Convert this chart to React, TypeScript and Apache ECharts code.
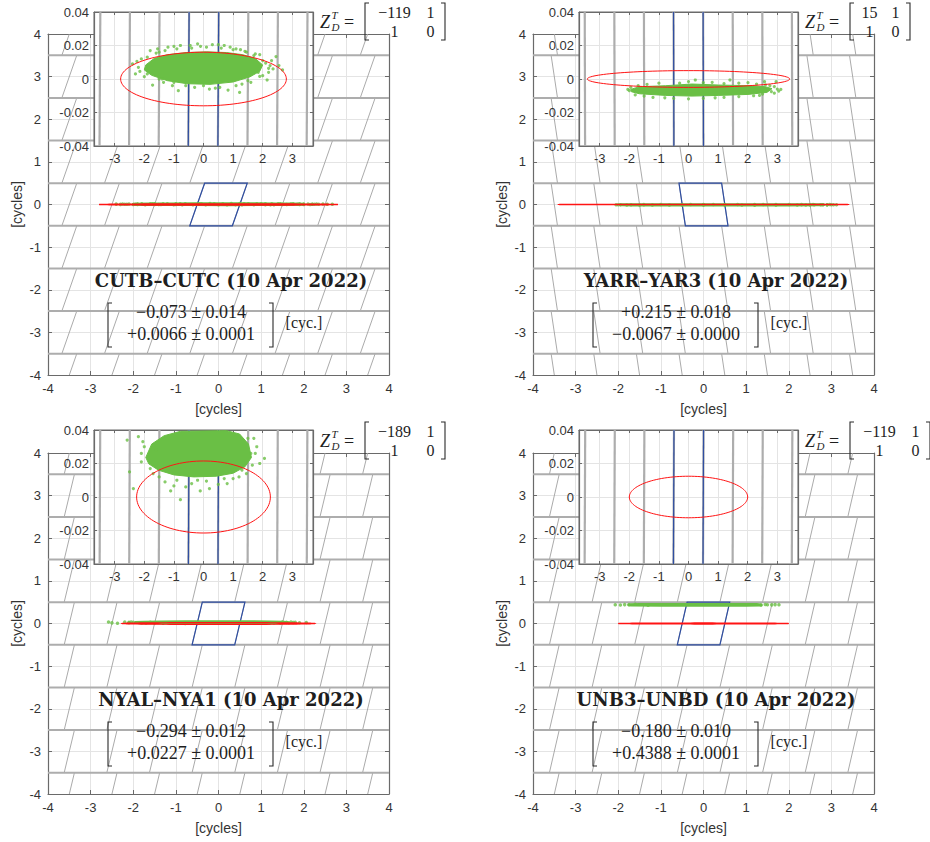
import React, { useEffect, useRef } from 'react';
import * as echarts from 'echarts';

// ---------------- data ----------------
const panelTitles = [
  'CUTB–CUTC (10 Apr 2022)',
  'YARR–YAR3 (10 Apr 2022)',
  'NYAL–NYA1 (10 Apr 2022)',
  'UNB3–UNBD (10 Apr 2022)',
];
const estimateRows = [
  ['−0.073 ± 0.014', '+0.0066 ± 0.0001'],
  ['+0.215 ± 0.018', '−0.0067 ± 0.0000'],
  ['−0.294 ± 0.012', '+0.0227 ± 0.0001'],
  ['−0.180 ± 0.010', '+0.4388 ± 0.0001'],
];
const zMatrixRows = [
  [['−119', '1'], ['1', '0']],
  [['15', '1'], ['1', '0']],
  [['−189', '1'], ['1', '0']],
  [['−119', '1'], ['1', '0']],
];
// shear of the pull-in region edges (dx per unit dy)
const latticeShear = [0.35, -0.15, 0.24, 0.23];
const ellipseCenters = [[0, 0], [0, 0], [0, 0], [0, 0]];
const ellipseSemiAxes = [[2.8, 0.016], [3.42, 0.005], [2.26, 0.0215], [2.0, 0.0124]];

const mainRange = [-4, 4];
const insetXRange = [-3.7, 3.7];
const insetYRange = [-0.04, 0.04];

// dense core outline of each float-solution cloud [cycles]
const coreCUTB = [[-1.95, 0.0084], [-1.67, 0.0122], [-1.22, 0.0145], [-0.56, 0.0158], [0.11, 0.0162], [0.78, 0.0158], [1.33, 0.0145], [1.75, 0.0122], [2.0, 0.0084], [1.9, 0.0046], [1.56, 0.0012], [1.0, -0.0018], [0.22, -0.0032], [-0.56, -0.0028], [-1.22, -0.001], [-1.75, 0.0022], [-2.0, 0.0054]];
const dotsCUTB = [[-2.4, 0.009], [-2.3, 0.003], [-2.1, 0.012], [-1.95, 0.006], [-1.8, 0.017], [-1.72, -0.0036], [-1.55, 0.018], [-1.4, 0.0], [-1.2, 0.019], [-1.0, 0.0195], [-0.85, -0.007], [-0.78, 0.02], [-0.6, -0.004], [-0.45, 0.02], [-0.2, 0.021], [0.0, -0.004], [0.3, 0.0205], [0.5, 0.0205], [0.55, -0.005], [0.83, -0.0066], [0.9, 0.019], [1.1, 0.018], [1.22, -0.008], [1.25, 0.0175], [1.45, 0.016], [1.6, -0.002], [1.75, 0.015], [1.9, 0.0145], [2.0, 0.002], [2.15, -0.0006], [2.2, 0.0064], [2.3, 0.011], [2.45, 0.0134], [2.55, 0.008], [2.67, 0.0054], [2.1, 0.0095], [1.85, 0.004], [-2.2, 0.007], [-2.0, 0.0014], [-1.5, 0.016],
  [-1.9, 0.013], [-1.6, 0.0155], [-1.3, 0.017], [-0.9, 0.018], [-0.4, 0.0185], [0.1, 0.019], [0.6, 0.0185], [1.0, 0.0175], [1.4, 0.0165], [1.7, 0.014], [2.0, 0.011], [2.25, 0.008], [-1.9, 0.003], [-1.5, 0.0], [-1.0, -0.002], [-0.3, -0.005], [0.4, -0.0055], [1.1, -0.004], [1.5, -0.001], [1.9, 0.0015], [2.2, 0.004], [-2.25, 0.0105], [-2.15, 0.0045], [2.35, 0.006], [-1.05, -0.004], [0.2, -0.006], [0.7, 0.02], [-0.1, 0.0195], [-1.35, -0.002], [1.3, -0.003]];

const coreYARR = [[-1.95, -0.0062], [-1.66, -0.0046], [-0.77, -0.004], [0.12, -0.003], [1.01, -0.0036], [2.01, -0.004], [2.6, -0.0046], [2.82, -0.0058], [2.65, -0.008], [2.01, -0.0092], [1.01, -0.0098], [0.12, -0.0102], [-0.77, -0.0098], [-1.66, -0.0088], [-1.93, -0.0076]];
const dotsYARR = [[3.12, -0.0062], [2.96, -0.0016], [2.57, -0.0016], [1.4, -0.0006], [0.23, -0.0006], [2.01, -0.0022], [3.0, -0.006], [2.8, -0.0075], [2.5, -0.009], [-2.0, -0.007], [-1.95, -0.005], [-1.8, -0.0095], [-1.2, -0.011], [-0.5, -0.0115], [0.5, -0.0115], [1.2, -0.011], [2.2, -0.01], [-1.0, -0.0025], [0.0, -0.0015], [0.8, -0.002], [1.7, -0.0025], [2.3, -0.003], [2.75, -0.004],
  [-1.7, -0.004], [-1.4, -0.0032], [-0.3, -0.0025], [0.5, -0.0022], [1.2, -0.0028], [2.6, -0.0035], [2.9, -0.0045], [3.05, -0.0072], [2.9, -0.0085], [-1.5, -0.0102], [-0.8, -0.0112], [0.0, -0.0118], [0.9, -0.0112], [1.7, -0.0105], [2.4, -0.0098], [-2.05, -0.0062]];

const coreNYAL = [[-1.95, 0.0236], [-1.75, 0.0316], [-1.33, 0.0366], [-0.78, 0.0392], [0.78, 0.0396], [1.22, 0.0376], [1.52, 0.0316], [1.62, 0.0236], [1.4, 0.018], [1.0, 0.0142], [0.44, 0.0124], [-0.33, 0.012], [-1.0, 0.0132], [-1.52, 0.016], [-1.85, 0.0198]];
const dotsNYAL = [[-2.58, 0.034], [-2.2, 0.036], [-2.5, 0.015], [-2.37, 0.005], [-0.78, -0.0016], [2.06, 0.023], [1.6, 0.026], [1.3, 0.016], [-0.11, 0.0036], [-1.11, 0.0036], [-1.0, 0.0066], [-1.6, 0.028], [-2.1, 0.026], [1.8, 0.03], [1.5, 0.035], [1.0, 0.011], [0.5, 0.0075], [-0.4, 0.008], [-1.5, 0.012], [-1.8, 0.017], [-2.0, 0.03], [1.9, 0.02], [1.2, 0.012], [0.8, 0.008], [-0.6, 0.006], [0.2, 0.005], [-1.3, 0.009], [-0.2, 0.01],
  [-2.1, 0.021], [-2.05, 0.033], [1.75, 0.026], [1.65, 0.019], [1.7, 0.035], [-0.9, 0.01], [0.1, 0.0095], [0.7, 0.011], [-1.7, 0.014], [1.45, 0.014]];

const coreUNB3 = [[-1.7, 0.434], [-1.0, 0.431], [0.0, 0.43], [1.0, 0.431], [1.35, 0.435], [1.25, 0.444], [0.5, 0.447], [-0.5, 0.447], [-1.5, 0.445], [-1.75, 0.44]];
const dotsUNB3 = [[-2.07, 0.44], [-1.95, 0.436], [-1.85, 0.443], [1.5, 0.44], [1.6, 0.437], [1.77, 0.44], [1.68, 0.443], [-1.75, 0.438], [1.45, 0.446], [-1.6, 0.45], [1.35, 0.432], [-1.3, 0.43]];

const cloudCores = [coreCUTB, coreYARR, coreNYAL, coreUNB3];
const cloudDots = [dotsCUTB, dotsYARR, dotsNYAL, dotsUNB3];

// ---------------- layout ----------------
const mainGridPos = [[48, 34], [533, 34], [48, 453], [533, 453]];
const MAIN_W = 341, MAIN_H = 341;
const insetGridPos = [[94, 12], [579, 12], [94, 430], [579, 430]];
const INSET_W = 219, INSET_H = 134;
const zCol1Width = [35, 15, 35, 35];

const GREEN = '#6abf45';
const RED = '#ff1414';
const BLUE = '#2f4ea2';
const TXT = '#1e1e1e';
const AX = '#6a6a6a';

// ---------------- helpers ----------------
function clipSeg(x1: number, y1: number, x2: number, y2: number, xmin: number, xmax: number, ymin: number, ymax: number) {
  let t0 = 0, t1 = 1;
  const dx = x2 - x1, dy = y2 - y1;
  const p = [-dx, dx, -dy, dy];
  const q = [x1 - xmin, xmax - x1, y1 - ymin, ymax - y1];
  for (let i = 0; i < 4; i++) {
    if (p[i] === 0) {
      if (q[i] < 0) return null;
    } else {
      const r = q[i] / p[i];
      if (p[i] < 0) {
        if (r > t1) return null;
        if (r > t0) t0 = r;
      } else {
        if (r < t0) return null;
        if (r < t1) t1 = r;
      }
    }
  }
  if (t1 - t0 < 1e-9) return null;
  return [x1 + t0 * dx, y1 + t0 * dy, x1 + t1 * dx, y1 + t1 * dy];
}

function clipPoly(pts: number[][], xmin: number, xmax: number, ymin: number, ymax: number) {
  const bounds: [number, number, boolean][] = [[0, xmin, true], [0, xmax, false], [1, ymin, true], [1, ymax, false]];
  let out = pts.slice();
  for (const [a, v, greater] of bounds) {
    const inp = out;
    out = [];
    if (!inp.length) break;
    const inside = (p: number[]) => (greater ? p[a] >= v : p[a] <= v);
    const inter = (p: number[], q: number[]) => {
      const t = (v - p[a]) / (q[a] - p[a]);
      return [p[0] + t * (q[0] - p[0]), p[1] + t * (q[1] - p[1])];
    };
    for (let i = 0; i < inp.length; i++) {
      const cur = inp[i], prev = inp[(i + inp.length - 1) % inp.length];
      if (inside(cur)) {
        if (!inside(prev)) out.push(inter(prev, cur));
        out.push(cur);
      } else if (inside(prev)) {
        out.push(inter(prev, cur));
      }
    }
  }
  return out;
}

function latticeEdges(l: number, xmin: number, xmax: number, ymin: number, ymax: number) {
  const horiz: number[][] = [];
  const slant: number[][] = [];
  for (let k = Math.floor(ymin) - 1; k <= Math.ceil(ymax) + 1; k++) {
    const y = k + 0.5;
    if (y > ymin && y < ymax) horiz.push([xmin, y, xmax, y]);
  }
  for (let k = Math.floor(ymin) - 1; k <= Math.ceil(ymax) + 1; k++) {
    const y0 = Math.max(k - 0.5, ymin), y1 = Math.min(k + 0.5, ymax);
    if (y1 <= y0) continue;
    for (let n = Math.floor(xmin) - 3; n <= Math.ceil(xmax) + 3; n++) {
      const xa = n + 0.5 + l * (y0 - k), xb = n + 0.5 + l * (y1 - k);
      const c = clipSeg(xa, y0, xb, y1, xmin, xmax, ymin, ymax);
      if (c) slant.push(c);
    }
  }
  return { horiz, slant };
}

function segSeries(xi: number, segs: number[][], color: string, width: number, z: number) {
  return {
    type: 'custom', xAxisIndex: xi, yAxisIndex: xi, z, silent: true,
    data: segs,
    renderItem: (params: any, api: any) => {
      const a = api.coord([api.value(0), api.value(1)]);
      const b = api.coord([api.value(2), api.value(3)]);
      return { type: 'line', shape: { x1: a[0], y1: a[1], x2: b[0], y2: b[1] }, style: { stroke: color, lineWidth: width } };
    },
  };
}

function polySeries(xi: number, pts: number[][], style: any, z: number) {
  if (pts.length < 3) return null;
  return {
    type: 'custom', xAxisIndex: xi, yAxisIndex: xi, z, silent: true,
    data: [pts[0]],
    renderItem: (params: any, api: any) => ({
      type: 'polygon', shape: { points: pts.map((p) => api.coord(p)) }, style,
    }),
  };
}

function ellipseSeries(xi: number, center: number[], axes: number[], width: number, z: number) {
  return {
    type: 'custom', xAxisIndex: xi, yAxisIndex: xi, z, silent: true,
    data: [center],
    renderItem: (params: any, api: any) => {
      const c = api.coord(center);
      const ex = api.coord([center[0] + axes[0], center[1]]);
      const ey = api.coord([center[0], center[1] + axes[1]]);
      const rx = ex[0] - c[0], ry = c[1] - ey[1];
      const pts: number[][] = [];
      for (let i = 0; i < 120; i++) {
        const t = (i / 120) * Math.PI * 2;
        pts.push([c[0] + rx * Math.cos(t), c[1] + ry * Math.sin(t)]);
      }
      return { type: 'polygon', shape: { points: pts }, style: { fill: 'none', stroke: RED, lineWidth: width } };
    },
  };
}

function txt(x: number, y: number, text: string, font: string, align = 'center', z = 8) {
  return {
    type: 'text', x, y, z, silent: true,
    style: { text, font, fill: TXT, textAlign: align, textVerticalAlign: 'middle', align, verticalAlign: 'middle' },
  };
}
function bracket(x: number, y0: number, y1: number, dir: number, z = 8) {
  return {
    type: 'polyline', z, silent: true,
    shape: { points: [[x + dir * 4, y0], [x, y0], [x, y1], [x + dir * 4, y1]] },
    style: { stroke: '#2a2a2a', lineWidth: 1.1, fill: null },
  };
}

const tickLabel = { fontFamily: 'Liberation Sans', fontSize: 13, color: '#333' };

function buildOption() {
  const grid: any[] = [], xAxis: any[] = [], yAxis: any[] = [], series: any[] = [], graphic: any[] = [];

  for (let p = 0; p < 4; p++) {
    const [ml, mt] = mainGridPos[p];
    const [il, it] = insetGridPos[p];
    grid.push({ left: ml, top: mt, width: MAIN_W, height: MAIN_H, z: 0, show: false, containLabel: false });
    grid.push({ left: il, top: it, width: INSET_W, height: INSET_H, z: 10, show: true, backgroundColor: '#ffffff', borderColor: AX, borderWidth: 1 });
    const gm = 2 * p, gi = 2 * p + 1;

    const mainAx = (gIdx: number, pos: string, isY: boolean, primary: boolean) => ({
      type: 'value', gridIndex: gIdx, position: pos, min: mainRange[0], max: mainRange[1], interval: 1, z: 1,
      axisLine: { show: true, onZero: false, lineStyle: { color: AX, width: 1.2 } },
      axisTick: { show: true, inside: true, length: 4, lineStyle: { color: AX, width: 1 } },
      axisLabel: primary ? { ...tickLabel, margin: 7 } : { show: false },
      splitLine: { show: primary, lineStyle: { color: '#e4e4e4', width: 1 } },
      name: primary ? '[cycles]' : '',
      nameLocation: 'middle',
      nameGap: isY ? 24 : 27,
      nameTextStyle: { fontFamily: 'Liberation Sans', fontSize: 14, color: '#333' },
    });
    xAxis.push(mainAx(gm, 'bottom', false, true), mainAx(gm, 'top', false, false));
    yAxis.push(mainAx(gm, 'left', true, true), mainAx(gm, 'right', true, false));

    const insetX = (pos: string, primary: boolean) => ({
      type: 'value', gridIndex: gi, position: pos, min: insetXRange[0], max: insetXRange[1], splitNumber: 7, minInterval: 1, maxInterval: 1, z: 11,
      axisLine: { show: true, onZero: false, lineStyle: { color: AX, width: 1.2 } },
      axisTick: { show: true, inside: true, length: 3, lineStyle: { color: AX } },
      axisLabel: primary ? { ...tickLabel, margin: 6, showMinLabel: false, showMaxLabel: false } : { show: false },
      splitLine: { show: primary, lineStyle: { color: '#e4e4e4', width: 1 } },
    });
    const insetY = (pos: string, primary: boolean) => ({
      type: 'value', gridIndex: gi, position: pos, min: insetYRange[0], max: insetYRange[1], interval: 0.02, z: 11,
      axisLine: { show: true, onZero: false, lineStyle: { color: AX, width: 1.2 } },
      axisTick: { show: true, inside: true, length: 3, lineStyle: { color: AX } },
      axisLabel: primary ? { ...tickLabel, margin: 5 } : { show: false },
      splitLine: { show: primary, lineStyle: { color: '#e4e4e4', width: 1 } },
    });
    xAxis.push(insetX('bottom', true), insetX('top', false));
    yAxis.push(insetY('left', true), insetY('right', false));

    const xiMain = 4 * p, xiInset = 4 * p + 2;
    const l = latticeShear[p];

    // main plot
    const me = latticeEdges(l, mainRange[0], mainRange[1], mainRange[0], mainRange[1]);
    series.push(segSeries(xiMain, me.slant, '#a0a0a0', 0.9, 2));
    series.push(segSeries(xiMain, me.horiz, '#adadad', 2, 2));
    const para = [[-0.5 - l / 2, -0.5], [0.5 - l / 2, -0.5], [0.5 + l / 2, 0.5], [-0.5 + l / 2, 0.5]];
    series.push(polySeries(xiMain, para, { fill: 'none', stroke: BLUE, lineWidth: 1.2 }, 3));
    series.push(polySeries(xiMain, cloudCores[p], { fill: GREEN, stroke: GREEN, lineWidth: 3, lineJoin: 'round' }, 4));
    series.push({
      type: 'scatter', xAxisIndex: xiMain, yAxisIndex: xiMain, z: 4, silent: true, symbolSize: 3.5,
      itemStyle: { color: GREEN }, data: cloudDots[p],
    });
    series.push(ellipseSeries(xiMain, ellipseCenters[p], ellipseSemiAxes[p], 1.2, 5));

    // inset
    const ie = latticeEdges(l, insetXRange[0], insetXRange[1], insetYRange[0], insetYRange[1]);
    series.push(segSeries(xiInset, ie.slant, '#adadad', 2.2, 12));
    // blue edges of the central pull-in region (the two slanted sides)
    const blueEdges = [
      [para[0][0], para[0][1], para[3][0], para[3][1]],
      [para[1][0], para[1][1], para[2][0], para[2][1]],
    ].map((s) => clipSeg(s[0], s[1], s[2], s[3], insetXRange[0], insetXRange[1], insetYRange[0], insetYRange[1])).filter(Boolean) as number[][];
    series.push(segSeries(xiInset, blueEdges, BLUE, 1.2, 13));
    const coreIn = clipPoly(cloudCores[p], insetXRange[0], insetXRange[1], insetYRange[0], insetYRange[1]);
    const cs = polySeries(xiInset, coreIn, { fill: GREEN, stroke: GREEN, lineWidth: 1 }, 14);
    if (cs) series.push(cs);
    const dotsIn = cloudDots[p].filter((d) => d[0] >= insetXRange[0] && d[0] <= insetXRange[1] && d[1] >= insetYRange[0] && d[1] <= insetYRange[1]);
    if (dotsIn.length) series.push({
      type: 'scatter', xAxisIndex: xiInset, yAxisIndex: xiInset, z: 14, silent: true, symbolSize: 3.2,
      itemStyle: { color: GREEN }, data: dotsIn,
    });
    series.push(ellipseSeries(xiInset, ellipseCenters[p], ellipseSemiAxes[p], 1, 15));

    // title + estimate matrix (relative to main grid)
    graphic.push(txt(ml + 183, mt + 246.5, panelTitles[p], 'bold 18px "DejaVu Serif"'));
    graphic.push(txt(ml + 143, mt + 278, estimateRows[p][0], '18px "Liberation Serif"'));
    graphic.push(txt(ml + 143, mt + 300, estimateRows[p][1], '18px "Liberation Serif"'));
    graphic.push(bracket(ml + 60, mt + 269, mt + 313, 1));
    graphic.push(bracket(ml + 225, mt + 269, mt + 313, -1));
    graphic.push(txt(ml + 256, mt + 288, '[cyc.]', '16px "Liberation Serif"'));

    // Z matrix
    const zx = ml + 272, zb = ml + 317;
    const w1 = zCol1Width[p];
    graphic.push(txt(zx, mt - 12.5, 'Z', 'italic 18px "Liberation Serif"', 'left', 20));
    graphic.push(txt(zx + 11.5, mt - 19, 'T', 'italic 11px "Liberation Serif"', 'left', 20));
    graphic.push(txt(zx + 11.5, mt - 7, 'D', 'italic 11px "Liberation Serif"', 'left', 20));
    graphic.push(txt(zb - 16, mt - 12.5, '=', '18px "Liberation Serif"', 'center', 20));
    graphic.push(bracket(zb, mt - 31, mt + 6, 1, 20));
    const c1 = zb + 12 + w1 / 2;
    const c2 = zb + 12 + w1 + 16 + 2.5;
    graphic.push(txt(c1, mt - 22, zMatrixRows[p][0][0], '16px "Liberation Serif"', 'center', 20));
    graphic.push(txt(c2, mt - 22, zMatrixRows[p][0][1], '16px "Liberation Serif"', 'center', 20));
    graphic.push(txt(c1, mt - 3, zMatrixRows[p][1][0], '16px "Liberation Serif"', 'center', 20));
    graphic.push(txt(c2, mt - 3, zMatrixRows[p][1][1], '16px "Liberation Serif"', 'center', 20));
    graphic.push(bracket(c2 + 2.5 + 12, mt - 31, mt + 6, -1, 20));
  }

  return {
    animation: false,
    backgroundColor: '#ffffff',
    grid, xAxis, yAxis,
    series: series.filter(Boolean),
    graphic,
  };
}

export default function App() {
  const ref = useRef<HTMLDivElement>(null);
  useEffect(() => {
    document.body.style.margin = '0';
    const chart = echarts.init(ref.current as HTMLDivElement, null, { renderer: 'svg' });
    chart.setOption(buildOption() as any);
    return () => chart.dispose();
  }, []);
  return <div ref={ref} style={{ width: 930, height: 842 }} />;
}
